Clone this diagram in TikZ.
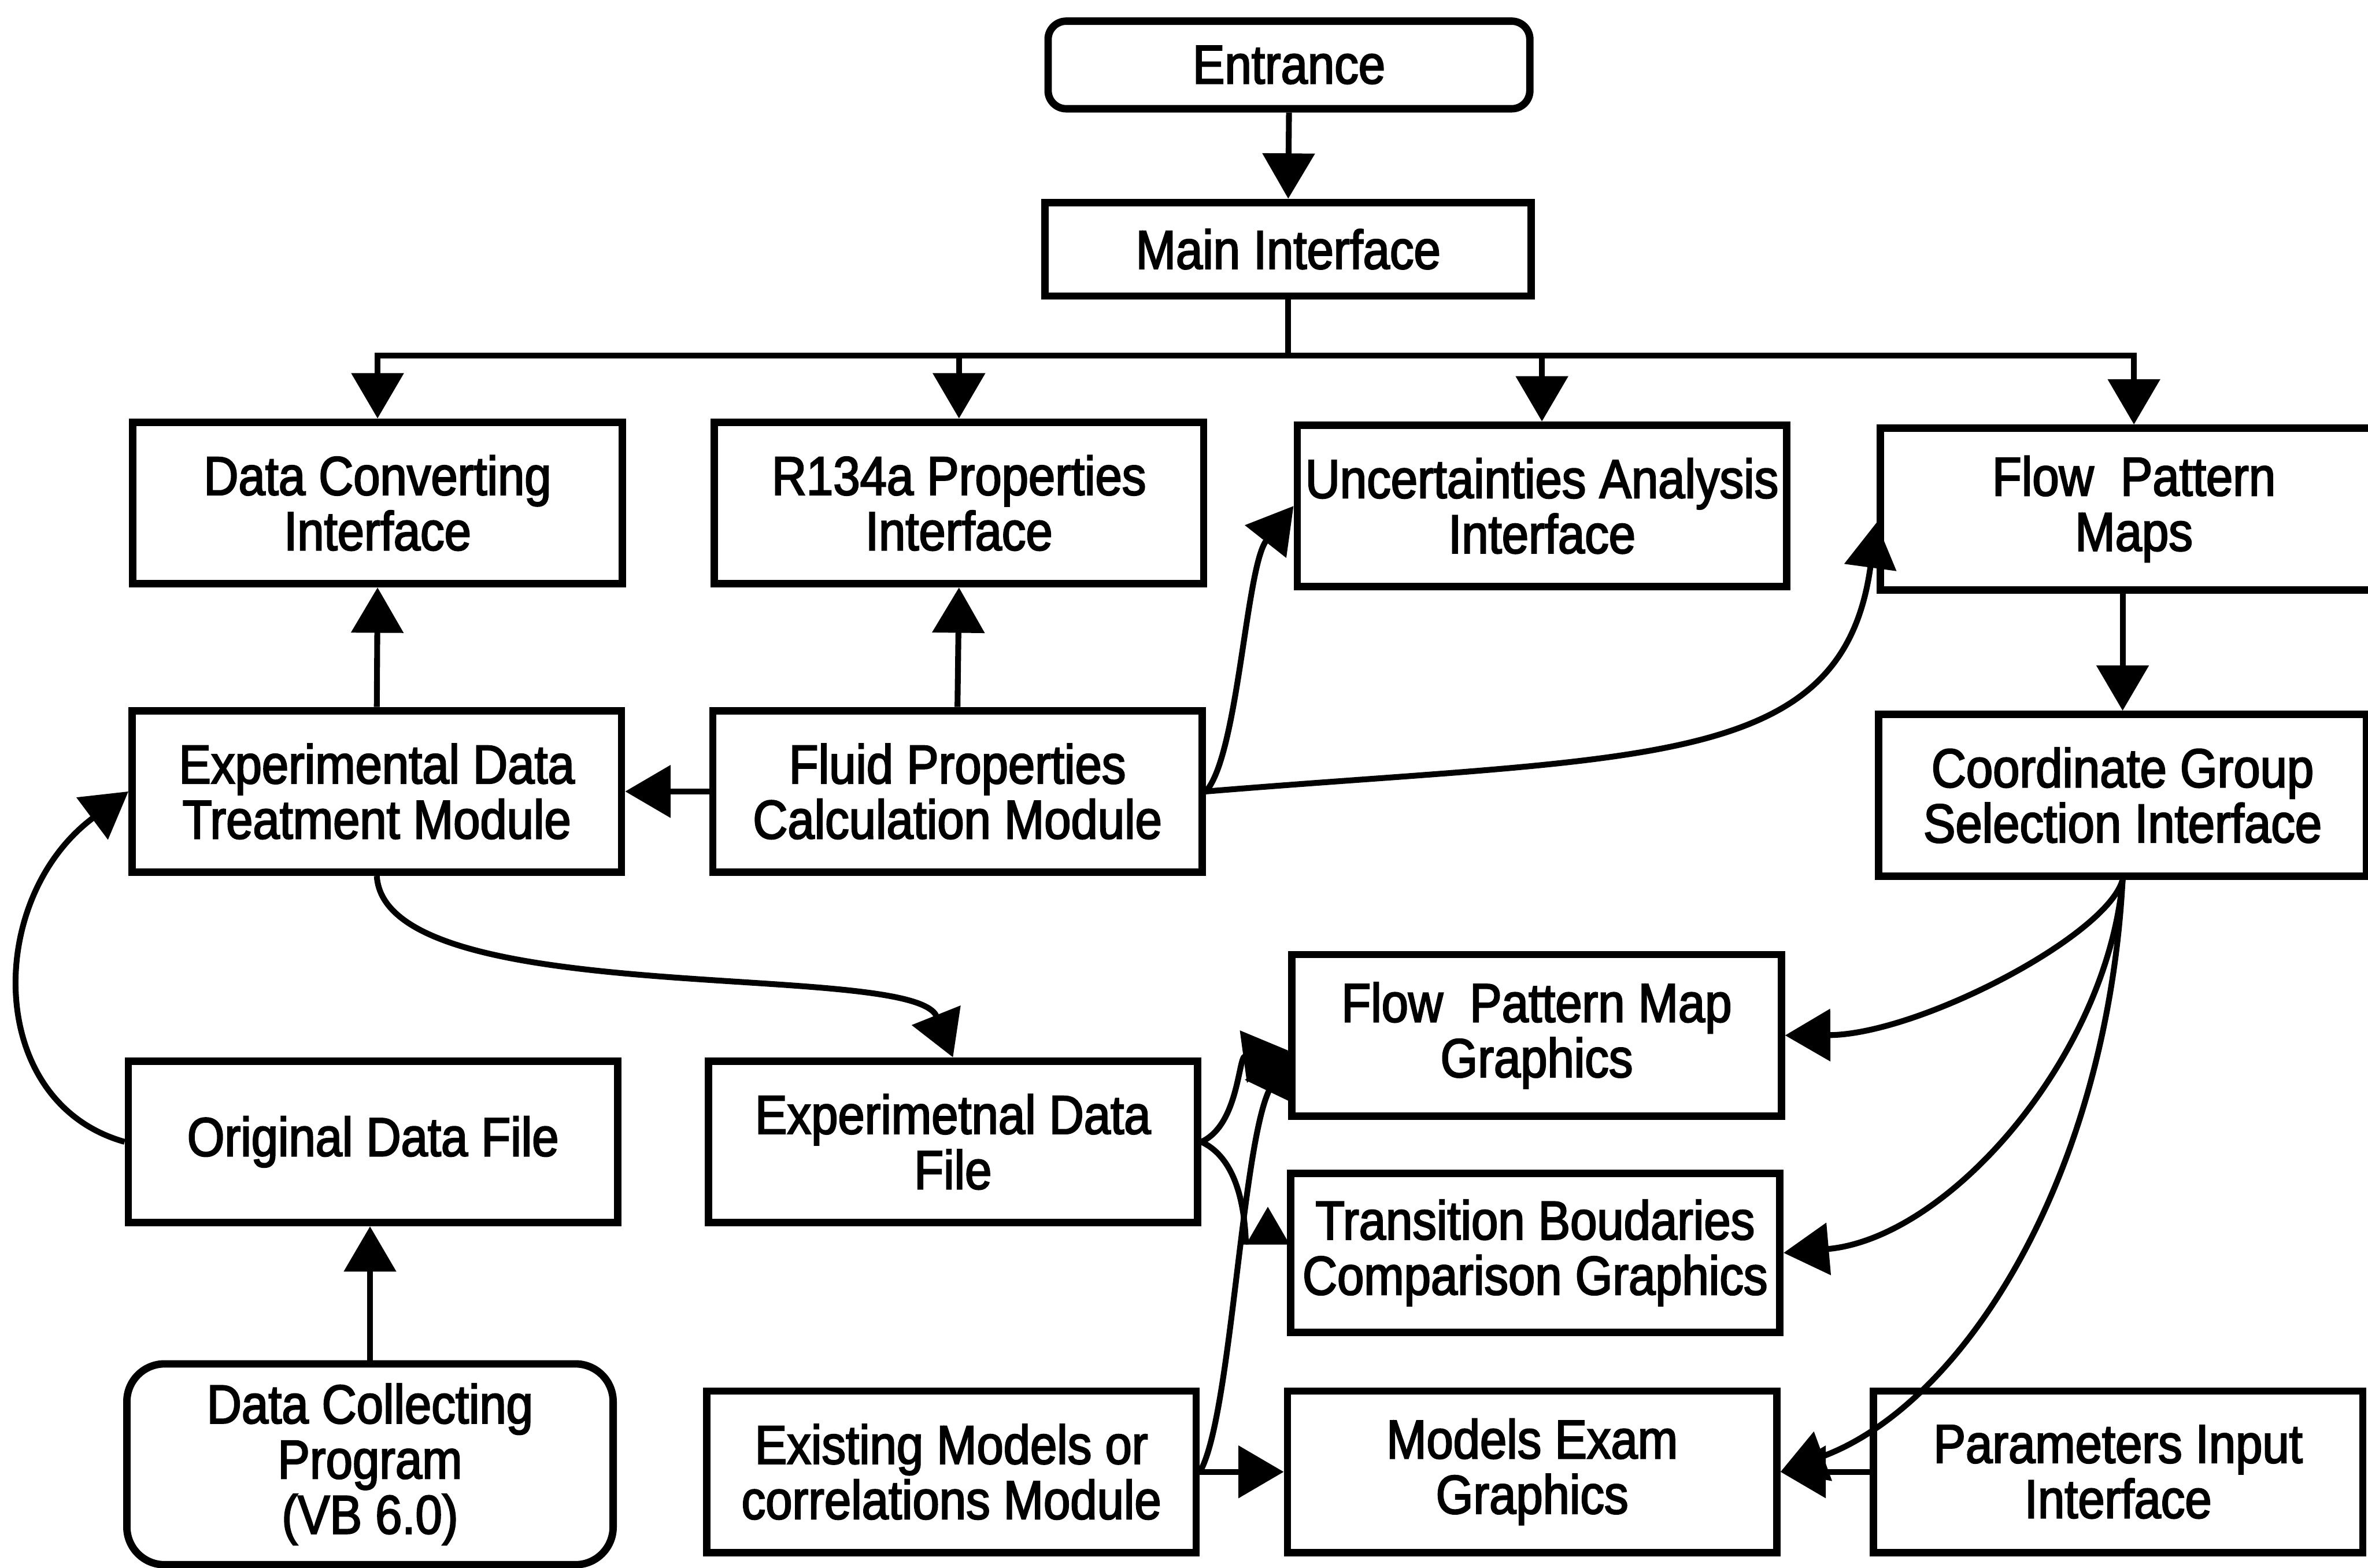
\documentclass[tikz,border=0pt]{standalone}
\usepackage{fontspec}
\setmainfont{Liberation Sans}[FakeStretch=0.88,FakeBold=2.5]
\usetikzlibrary{arrows.meta}
\begin{document}
\begin{tikzpicture}[
  box/.style={
    draw,
    line width=1.4pt,
    align=center,
    minimum width=3.24cm,
    minimum height=1.07cm,
    inner xsep=1pt,
    inner ysep=2pt,
    font=\fontsize{10.3}{10.4}\selectfont
  },
  rbox/.style={box, rounded corners=1.2mm},
  link/.style={line width=1.1pt},
  arrow/.style={link, -{Triangle[length=3mm,width=3.4mm]}}
]
\useasboundingbox (0,0) rectangle (15.68,-10.38);

\node[rbox, minimum width=3.19cm, minimum height=0.58cm] (entrance) at (8.535,-0.43) {Entrance};
\node[box, minimum width=3.22cm, minimum height=0.62cm] (main) at (8.53,-1.65) {Main Interface};

\node[box] (convert) at (2.50,-3.33) {Data Converting\\Interface};
\node[box] (r134a) at (6.35,-3.33) {R134a Properties\\Interface};
\node[box] (uncert) at (10.21,-3.35) {Uncertainties Analysis\\Interface};
\node[box, minimum width=3.36cm] (maps) at (14.13,-3.37) {Flow\ \ Pattern\\Maps};

\node[box] (treat) at (2.495,-5.24) {Experimental Data\\Treatment Module};
\node[box] (fluid) at (6.34,-5.24) {Fluid Properties\\Calculation Module};
\node[box, minimum width=3.23cm] (coord) at (14.055,-5.265) {Coordinate Group\\Selection Interface};

\node[box] (mapgraph) at (10.175,-6.855) {Flow\ \ Pattern Map\\Graphics};
\node[box] (original) at (2.47,-7.56) {Original Data File};
\node[box] (expfile) at (6.31,-7.56) {Experimetnal Data\\File};
\node[box, minimum height=1.05cm] (transition) at (10.165,-8.295) {Transition Boudaries\\Comparison Graphics};

\node[rbox, rounded corners=2.5mm, minimum width=3.22cm, minimum height=1.33cm] (collect) at (2.45,-9.695) {Data Collecting\\Program\\(VB 6.0)};
\node[box] (existing) at (6.30,-9.745) {Existing Models or\\correlations Module};
\node[box] (exam) at (10.145,-9.745) {Models Exam\\Graphics};
\node[box] (params) at (14.025,-9.745) {Parameters Input\\Interface};

\draw[arrow] (entrance.south) -- (main.north);
\draw[arrow] (main.south) -- ++(0,-0.37) -| (convert.north);
\draw[arrow] (main.south) -- ++(0,-0.37) -| (r134a.north);
\draw[arrow] (main.south) -- ++(0,-0.37) -| (uncert.north);
\draw[arrow] (main.south) -- ++(0,-0.37) -| (maps.north);

\draw[arrow] (treat.north) -- (convert.south);
\draw[arrow] (fluid.north) -- (r134a.south);
\draw[arrow] (fluid.west) -- (treat.east);
\draw[arrow] (fluid.east) .. controls (8.2,-5.0) and (8.25,-3.75) .. (uncert.west);
\draw[arrow] (fluid.east) .. controls (10.9,-5.0) and (12.2,-5.1) .. ([yshift=-0.09cm]maps.west);
\draw[arrow] (maps.south -| coord.north) -- (coord.north);

\draw[arrow] (treat.south) .. controls (2.55,-6.7) and (6.05,-6.35) .. (expfile.north);
\draw[arrow] (original.west) .. controls (-0.1,-7.3) and (-0.1,-5.95) .. (treat.west);
\draw[arrow] (collect.north) -- (collect.north |- original.south);

\draw[arrow] (expfile.east) .. controls (8.2,-7.45) and (8.2,-7.0) .. ([yshift=-0.1cm]mapgraph.west);
\coordinate (tbjoin) at (8.25,-8.24);
\draw[link] (expfile.east) .. controls (8.15,-7.65) and (8.24,-7.9) .. (tbjoin);
\fill (tbjoin) -- ++(0.29,0) -- ++(-0.145,0.25) -- cycle;
\draw[arrow] (existing.east) .. controls (8.15,-9.4) and (8.22,-7.6) .. ([yshift=-0.1cm]mapgraph.west);
\draw[arrow] (existing.east) -- (exam.west);

\draw[arrow] (coord.south) .. controls (13.95,-6.2) and (12.7,-6.85) .. (mapgraph.east);
\draw[arrow] (coord.south) .. controls (13.95,-7.0) and (12.9,-8.2) .. (transition.east);
\draw[arrow] (coord.south) .. controls (13.95,-7.8) and (13.0,-9.3) .. (exam.east);
\draw[arrow] (params.west) -- (exam.east);
\end{tikzpicture}
\end{document}
